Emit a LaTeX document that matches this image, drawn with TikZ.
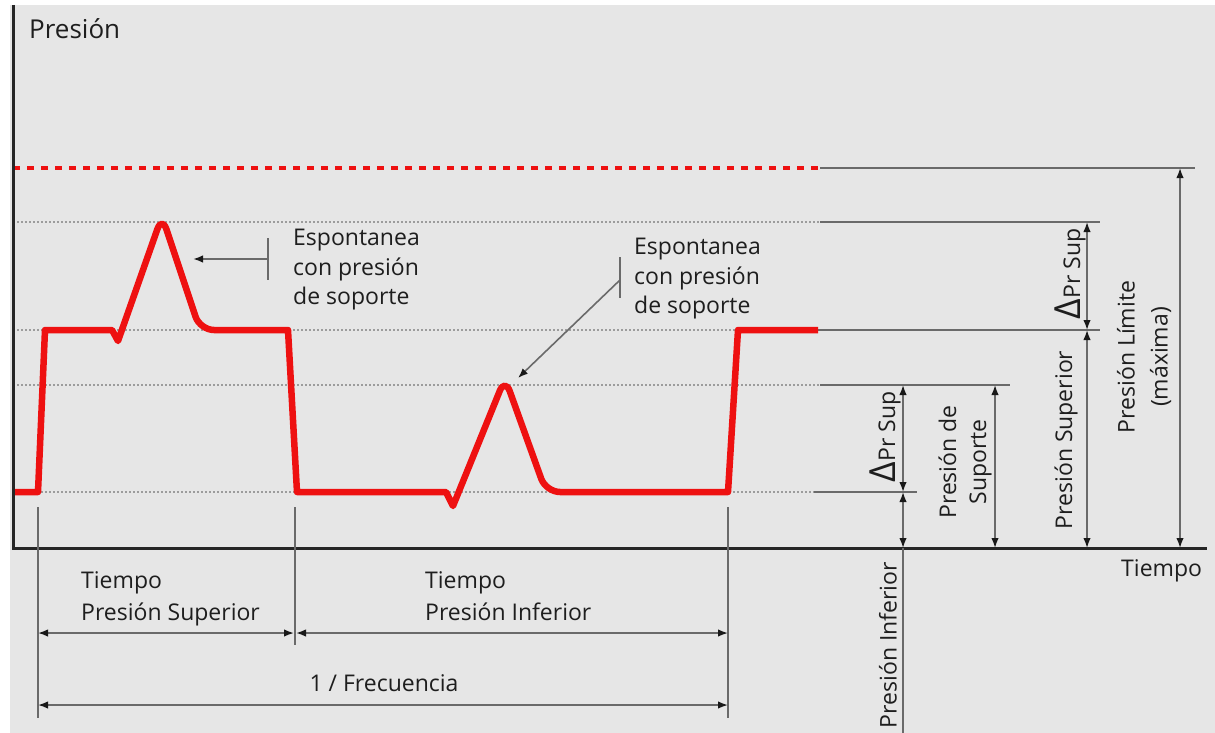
\documentclass[tikz,border=0pt]{standalone}
\usepackage{fontspec}
\setmainfont{Open Sans}
\usetikzlibrary{arrows.meta}
\definecolor{bg}{HTML}{E6E6E6}
\definecolor{curvered}{HTML}{EE1111}
\definecolor{dimgray}{HTML}{6A6A6A}
\definecolor{dotgray}{HTML}{9C9C9C}
\definecolor{txt}{HTML}{1E1E1E}
\tikzset{
  lbl/.style={font=\fontsize{23}{29.5}\selectfont, text=txt, inner sep=0pt, align=left},
  rlbl/.style={lbl, rotate=90, align=center},
  dimline/.style={draw=dimgray, line width=1.6pt},
  dimarr/.style={dimline, {Latex[length=10pt,width=7.5pt,color=black!90]}-{Latex[length=10pt,width=7.5pt,color=black!90]}},
  onearr/.style={dimline, -{Latex[length=10pt,width=7.5pt,color=black!90]}},
  dotline/.style={draw=dotgray, line width=1.6pt, dash pattern=on 2pt off 2pt},
  redcurve/.style={draw=curvered, line width=6.5pt, line join=round},
  axisline/.style={draw=black!85, line width=3pt},
}
\newcommand{\dPr}{{\fontsize{36}{36}\selectfont Δ}Pr Sup}
\begin{document}
\begin{tikzpicture}[x=1pt,y=-1pt]
\useasboundingbox (0,0) rectangle (1215,733);
\fill[white] (0,0) rectangle (1215,733);
\fill[bg] (10,5) rectangle (1215,733);

% reference levels
\coordinate (lim0) at (13,168);   \coordinate (lim1) at (820,168);
\coordinate (pk0) at (13,222);    \coordinate (pk1) at (820,222);
\coordinate (up0) at (13,330);    \coordinate (up1) at (818,330);
\coordinate (sp0) at (13,385);    \coordinate (sp1) at (820,385);
\coordinate (lo0) at (13,492);    \coordinate (lo1) at (814,492);

\draw[dotline] (pk0) -- (pk1);
\draw[dotline] (up0) -- (up1);
\draw[dotline] (sp0) -- (sp1);
\draw[dotline] (lo0) -- (lo1);
\draw[draw=curvered, line width=3.5pt, dash pattern=on 7pt off 7pt] (lim0) -- (lim1);

% extension lines
\coordinate (limE) at (1195,168);
\coordinate (pkE) at (1100,222);
\coordinate (upE) at (1100,330);
\coordinate (spE) at (1010,385);
\coordinate (loE) at (917,492);
\draw[dimline] (lim1) -- (limE);
\draw[dimline] (pk1) -- (pkE);
\draw[dimline] (up1) -- (upE);
\draw[dimline] (sp1) -- (spE);
\draw[dimline] (lo1) -- (loE);

% pressure curve
\draw[redcurve] (13,492) -- (38,492) -- (45,330) -- (112,330) -- (118,341)
  [rounded corners=14pt] -- (162,216) -- (200,330) [sharp corners] -- (288,330) -- (297,492)
  -- (446,492) -- (453,506) [rounded corners=14pt] -- (505,378) -- (546,492) [sharp corners]
  -- (728,492) -- (738,330) -- (818,330);

% axes
\coordinate (o) at (13,548);
\draw[axisline] (13,5) -- (o) -- (1207,548);

% right dimension arrows
\coordinate (a1) at (1087,222); \coordinate (a2) at (1087,330); \coordinate (a3) at (1087,548);
\draw[dimarr] (a1) -- (a2);
\draw[dimarr] (a2) -- (a3);
\coordinate (b1) at (1180,168); \coordinate (b2) at (1180,548);
\draw[dimarr] (b1) -- (b2);
\coordinate (c1) at (903,385); \coordinate (c2) at (903,492); \coordinate (c3) at (903,548); \coordinate (c4) at (903,733);
\draw[dimarr] (c1) -- (c2);
\draw[dimarr] (c2) -- (c3);
\draw[dimline] (c3) -- (c4);
\coordinate (d1) at (995,385); \coordinate (d2) at (995,548);
\draw[dimarr] (d1) -- (d2);

% bottom time marks
\coordinate (t1a) at (38,507);  \coordinate (t1b) at (38,718);
\coordinate (t2a) at (295,507); \coordinate (t2b) at (295,645);
\coordinate (t3a) at (728,507); \coordinate (t3b) at (728,718);
\draw[dimline] (t1a) -- (t1b);
\draw[dimline] (t2a) -- (t2b);
\draw[dimline] (t3a) -- (t3b);
\draw[dimarr] (38,633) -- (294,633);
\draw[dimarr] (296,633) -- (728,633);
\draw[dimarr] (38,705) -- (728,705);

% spontaneous breath pointers
\coordinate (k1a) at (268,238); \coordinate (k1b) at (268,280);
\coordinate (k1m) at (268,259); \coordinate (k1t) at (193,259);
\draw[dimline] (k1a) -- (k1b);
\draw[onearr] (k1m) -- (k1t);
\coordinate (k2a) at (620,257); \coordinate (k2b) at (620,298);
\coordinate (k2m) at (620,280); \coordinate (k2t) at (518,378);
\draw[dimline] (k2a) -- (k2b);
\draw[onearr] (k2m) -- (k2t);

% labels
\node[lbl, anchor=north west, font=\fontsize{26}{30}\selectfont] (ylab) at (29,18) {Presión};
\node[lbl, anchor=north west] (xlab) at (1121,559) {Tiempo};
\node[lbl, anchor=north west] (esp1) at (293,229) {Espontanea\\con presión\\de soporte};
\node[lbl, anchor=north west] (esp2) at (634,238) {Espontanea\\con presión\\de soporte};
\node[lbl, anchor=north west, font=\fontsize{23}{32}\selectfont] (tps) at (81,571) {Tiempo\\Presión Superior};
\node[lbl, anchor=north west, font=\fontsize{23}{32}\selectfont] (tpi) at (425,571) {Tiempo\\Presión Inferior};
\node[lbl] (frec) at (384,683) {1 / Frecuencia};
\node[rlbl] (dps1) at (1070,274) {\dPr};
\node[rlbl] (psup) at (1066,440) {Presión Superior};
\node[rlbl, font=\fontsize{23}{33}\selectfont] (plim) at (1144,357) {Presión Límite\\(máxima)};
\node[rlbl] (dps2) at (885,437) {\dPr};
\node[rlbl, font=\fontsize{23}{30}\selectfont] (psop) at (965,462) {Presión de\\Suporte};
\node[rlbl] (pinf) at (888,645) {Presión Inferior};
\end{tikzpicture}
\end{document}
